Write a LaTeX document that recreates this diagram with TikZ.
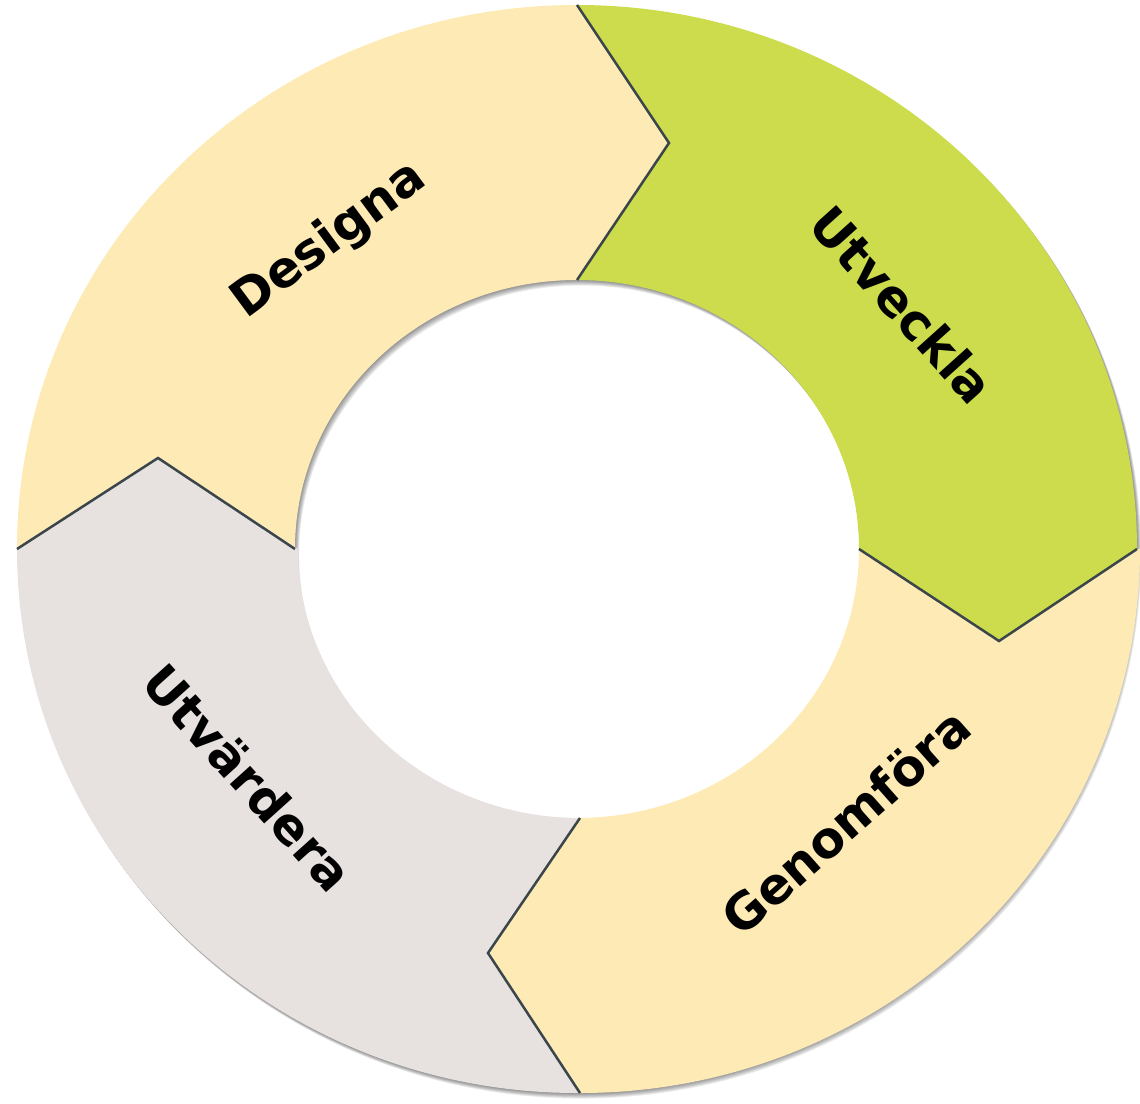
\documentclass[tikz,border=0pt]{standalone}
\usepackage{fontspec}
\setmainfont{DejaVu Sans}
\definecolor{segyellow}{HTML}{FDEAB4}
\definecolor{seggreen}{HTML}{CCDC4C}
\definecolor{seggray}{HTML}{E7E1DF}
\definecolor{joint}{HTML}{3A464C}
\tikzset{
  label text/.style={font=\fontsize{50}{60}\selectfont\bfseries, text=black, inner sep=0pt, text height=36pt, text depth=0pt},
  joint line/.style={draw=joint, line width=2.5pt, line join=miter},
}
\begin{document}
\begin{tikzpicture}[x=1pt,y=1pt]
\useasboundingbox (-577,-554) rectangle (563,549);
% joints
\coordinate (TO) at (0,544);   \coordinate (TP) at (92,406);   \coordinate (TI) at (0,269);
\coordinate (RO) at (560,0);   \coordinate (RP) at (422,-92);  \coordinate (RI) at (282,0);
\coordinate (BO) at (3,-544);  \coordinate (BP) at (-89,-404); \coordinate (BI) at (3,-269);
\coordinate (LO) at (-560,0);  \coordinate (LP) at (-419,91);  \coordinate (LI) at (-282,0);
% soft shadow
\foreach \i in {1,...,7}{
  \fill[black, opacity=0.07, even odd rule, shift={(0.6*\i,-0.8*\i)}]
    (0,0) ellipse [x radius=560, y radius=544]
    (0,0) ellipse [x radius=282, y radius=269];
}
% segments
\fill[segyellow] (LO) -- (LP) -- (LI)
  arc[start angle=180, end angle=90, x radius=282, y radius=269] -- (TP) -- (TO)
  arc[start angle=90, end angle=180, x radius=560, y radius=544] -- cycle;
\fill[seggreen] (TO) -- (TP) -- (TI)
  arc[start angle=90, end angle=0, x radius=282, y radius=269] -- (RP) -- (RO)
  arc[start angle=0, end angle=90, x radius=560, y radius=544] -- cycle;
\fill[segyellow] (RO) -- (RP) -- (RI)
  arc[start angle=0, end angle=-90, x radius=282, y radius=269] -- (BP) -- (BO)
  arc[start angle=-90, end angle=0, x radius=560, y radius=544] -- cycle;
\fill[seggray] (BO) -- (BP) -- (BI)
  arc[start angle=270, end angle=180, x radius=282, y radius=269] -- (LP) -- (LO)
  arc[start angle=180, end angle=270, x radius=560, y radius=544] -- cycle;
% joint lines
\draw[joint line] (TO) -- (TP) -- (TI);
\draw[joint line] (RO) -- (RP) -- (RI);
\draw[joint line] (BO) -- (BP) -- (BI);
\draw[joint line] (LO) -- (LP) -- (LI);
% labels
\node[label text, rotate=36.5] (designa) at (-250,312) {Designa};
\node[label text, rotate=-48] (utveckla) at (325,244) {Utveckla};
\node[label text, rotate=41.5] (genomfora) at (269,-273) {Genomföra};
\node[label text, rotate=-48] (utvardera) at (-329,-229) {Utvärdera};
\end{tikzpicture}
\end{document}
